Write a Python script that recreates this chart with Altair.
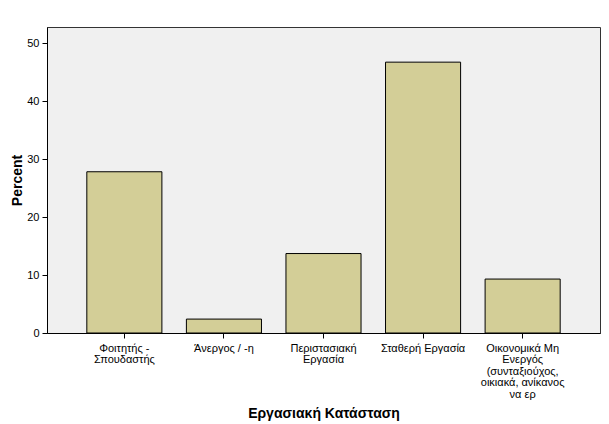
import altair as alt
import pandas as pd

categories = [
    "Φοιτητής -\nΣπουδαστής",
    "Άνεργος / -η",
    "Περιστασιακή\nΕργασία",
    "Σταθερή Εργασία",
    "Οικονομικά Μη\nΕνεργός\n(συνταξιούχος,\nοικιακά, ανίκανος\nνα ερ",
]
percents = [27.8, 2.4, 13.7, 46.7, 9.3]
y_ticks = [0, 10, 20, 30, 40, 50]

df = pd.DataFrame({"cat": categories, "pct": percents})

FONT = "Liberation Sans"

chart = alt.Chart(df).mark_bar(
    color="#D3CE97", stroke="#000000", strokeWidth=1
).encode(
    x=alt.X(
        "cat:N",
        sort=categories,
        title="Εργασιακή Κατάσταση",
        scale=alt.Scale(paddingInner=0.246, paddingOuter=0.40),
        axis=alt.Axis(
            labelAngle=0,
            labelExpr="split(datum.label, '\\n')",
            labelFont=FONT,
            labelFontSize=11,
            labelColor="#000000",
            labelLineHeight=11.5,
            labelPadding=4,
            labelBaseline="top",
            tickSize=5,
            tickColor="#000000",
            domainColor="#000000",
            domainWidth=1,
            titleFont=FONT,
            titleFontSize=14,
            titleFontWeight="bold",
            titleColor="#000000",
            titleY=80,
            titleBaseline="middle",
            grid=False,
        ),
    ),
    y=alt.Y(
        "pct:Q",
        title="Percent",
        scale=alt.Scale(domain=[0, 52.76], nice=False, zero=True),
        axis=alt.Axis(
            values=y_ticks,
            labelFont=FONT,
            labelFontSize=11,
            labelColor="#000000",
            labelPadding=3,
            tickSize=5,
            tickColor="#000000",
            domainColor="#000000",
            domainWidth=1,
            titleFont=FONT,
            titleFontSize=14,
            titleFontWeight="bold",
            titleColor="#000000",
            titleX=-30,
            titleBaseline="middle",
            grid=False,
        ),
    ),
).properties(
    width=553,
    height=306,
    autosize=alt.AutoSizeParams(type="none"),
    padding={"left": 47, "top": 27, "right": 9, "bottom": 91},
    background="#FFFFFF",
).configure_view(
    fill="#F0F0F0",
    stroke="#333333",
    strokeWidth=1,
)

chart.save("out.html", embed_options={"renderer": "svg", "actions": False})
